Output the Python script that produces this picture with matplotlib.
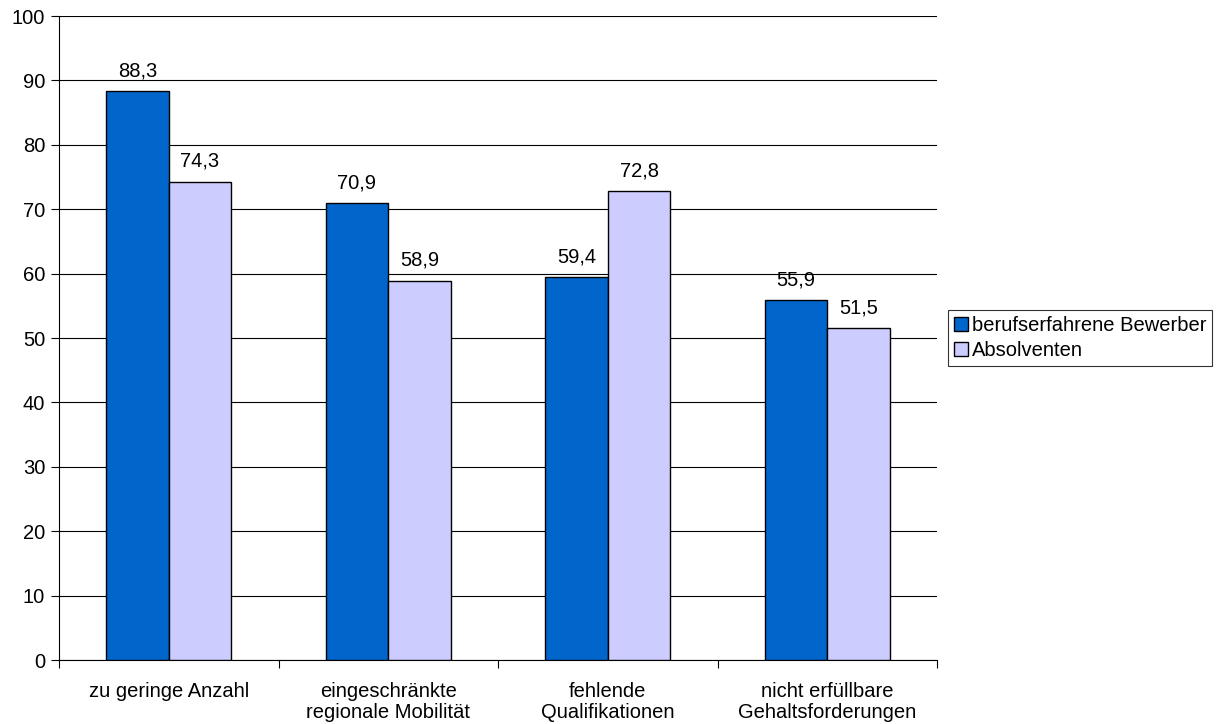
import matplotlib
matplotlib.use("Agg")
import matplotlib.pyplot as plt
import numpy as np

# Daten
kategorien = ["zu geringe Anzahl", "eingeschränkte\nregionale Mobilität",
              "fehlende\nQualifikationen", "nicht erfüllbare\nGehaltsforderungen"]
berufserfahrene = [88.3, 70.9, 59.4, 55.9]
absolventen = [74.3, 58.9, 72.8, 51.5]

plt.rcParams['font.family'] = ['Liberation Sans', 'DejaVu Sans']
fs = 14.5

fig = plt.figure(figsize=(12.2, 7.24), dpi=100)
ax = fig.add_axes([59 / 1220, 64 / 724, 878 / 1220, 644 / 724])

x = np.arange(len(kategorien))
breite = 0.285
b1 = ax.bar(x - breite / 2, berufserfahrene, breite, color="#0066CC",
            edgecolor="black", linewidth=1, label="berufserfahrene Bewerber", zorder=3)
b2 = ax.bar(x + breite / 2, absolventen, breite, color="#CCCCFF",
            edgecolor="black", linewidth=1, label="Absolventen", zorder=3)

for bars, werte in ((b1, berufserfahrene), (b2, absolventen)):
    for b, w in zip(bars, werte):
        ax.text(b.get_x() + b.get_width() / 2, w + 1.7, f"{w:.1f}".replace(".", ","),
                ha="center", va="bottom", fontsize=fs)

ax.set_xlim(-0.5, len(kategorien) - 0.5)
ax.set_ylim(0, 100)
ax.set_yticks(range(0, 101, 10))
ax.yaxis.grid(True, color="black", linewidth=0.8, zorder=0)

# Kategorien zwischen den Teilstrichen
ax.set_xticks(np.arange(-0.5, len(kategorien), 1.0))
ax.set_xticklabels([])
ax.set_xticks(x, minor=True)
ax.set_xticklabels(kategorien, minor=True, fontsize=fs, linespacing=1.15)
ax.tick_params(axis="x", which="minor", length=0, pad=16)
ax.tick_params(axis="x", which="major", length=6, direction="out")
ax.tick_params(axis="y", length=6, direction="out", labelsize=fs, pad=4)

for s in ("top", "right"):
    ax.spines[s].set_visible(False)
ax.spines["left"].set_color("black")
ax.spines["bottom"].set_color("black")

leg = ax.legend(loc="center left", bbox_to_anchor=(1.012, 0.5), fontsize=fs,
                frameon=True, fancybox=False, edgecolor="black",
                handlelength=0.7, handleheight=0.7, handletextpad=0.2,
                borderpad=0.3, labelspacing=0.3, borderaxespad=0)
leg.get_frame().set_linewidth(0.8)

fig.savefig("out.png", dpi=100)
